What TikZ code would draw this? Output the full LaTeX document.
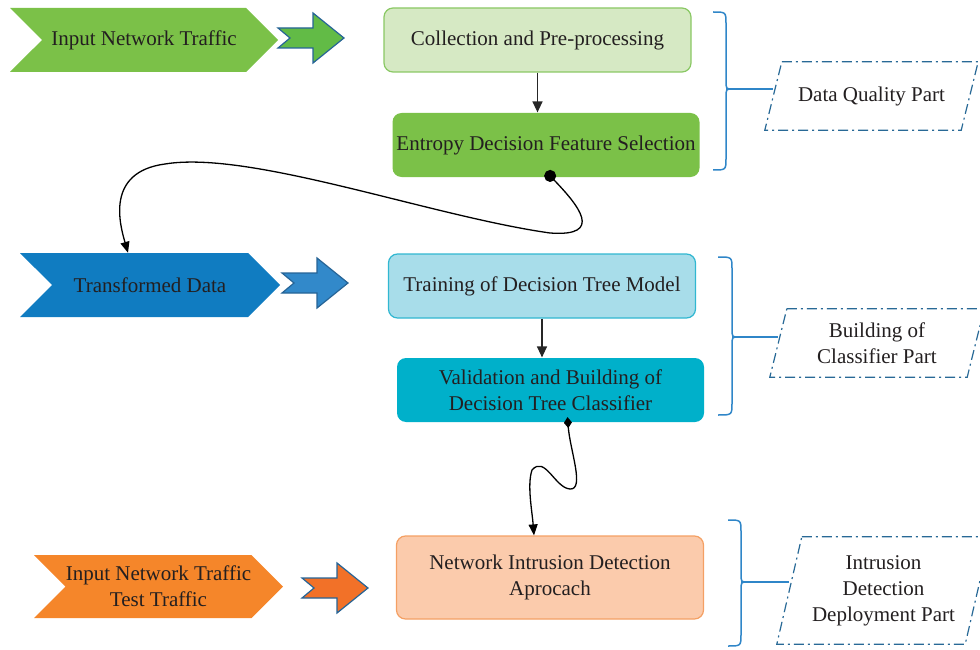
\documentclass[tikz,border=0pt]{standalone}
\usepackage{fontspec}
\setmainfont{Liberation Serif}
\usetikzlibrary{shapes.symbols, arrows.meta}

\definecolor{txt}{RGB}{35,31,32}
\definecolor{grnA}{RGB}{123,193,72}
\definecolor{grnB}{RGB}{98,187,70}
\definecolor{grnPale}{RGB}{214,233,196}
\definecolor{grnEdge}{RGB}{138,200,100}
\definecolor{bluA}{RGB}{16,124,193}
\definecolor{bluB}{RGB}{50,137,202}
\definecolor{cyanPale}{RGB}{168,221,234}
\definecolor{cyanEdge}{RGB}{49,183,209}
\definecolor{cyanA}{RGB}{0,176,202}
\definecolor{orgA}{RGB}{245,134,42}
\definecolor{orgB}{RGB}{242,113,40}
\definecolor{orgPale}{RGB}{251,203,172}
\definecolor{orgEdge}{RGB}{244,160,100}
\definecolor{arrowEdge}{RGB}{38,100,150}
\definecolor{braceCol}{RGB}{47,134,200}
\definecolor{partLine}{RGB}{40,105,150}

\tikzset{fat arrow/.pic={
    \path[pic actions, line width=1.2pt] (0,-10) -- (12,0) -- (0,10) -- (35,10) -- (35,25)
        -- (66,0) -- (35,-25) -- (35,-10) -- cycle;}}

\begin{document}
\begin{tikzpicture}[x=1pt, y=-1pt,
    every node/.style={font=\fontsize{21}{26}\selectfont, text=txt, align=center},
    chevron/.style={signal, signal to=east, signal from=west, signal pointer angle=90,
        minimum height=64pt, inner sep=0pt},
    stage/.style={rounded corners=9pt, minimum width=307pt, minimum height=64pt,
        line width=1.2pt, inner sep=0pt},
    part/.style={minimum height=68pt, inner sep=0pt},
    partedge/.style={draw=partLine, line width=1.2pt, dash pattern=on 10pt off 4pt on 2pt off 4pt},
    flow/.style={-{Triangle[length=11pt,width=10pt]}, line width=1.3pt, draw=black!85},
    link/.style={line width=1.3pt, draw=black},
    bracket/.style={draw=braceCol, line width=1.5pt}]

\useasboundingbox (0,0) rectangle (980,650);

% first row: data quality
\node[chevron, fill=grnA, minimum width=268pt] (inTraffic) at (144,40) {Input Network Traffic};
\pic[fill=grnB, draw=arrowEdge] at (278,38) {fat arrow};
\node[stage, fill=grnPale, draw=grnEdge] (collect) at (537.5,40) {Collection and Pre-processing};
\node[stage, fill=grnA] (entropy) at (546,145) {Entropy Decision Feature Selection};
\draw[flow] (collect.south) -- (collect.south |- entropy.north);

% second row: classifier
\node[chevron, fill=bluA, minimum width=260pt] (transformed) at (150,285) {Transformed Data};
\pic[fill=bluB, draw=arrowEdge] at (282,283) {fat arrow};
\node[stage, fill=cyanPale, draw=cyanEdge] (training) at (542,286) {Training of Decision Tree Model};
\node[stage, fill=cyanA] (validation) at (550.5,390) {Validation and Building of\\Decision Tree Classifier};
\draw[flow] (training.south) -- (training.south |- validation.north);

% third row: deployment
\node[chevron, fill=orgA, minimum width=249pt, minimum height=63pt] (testTraffic) at (158.5,586.5) {Input Network Traffic\\Test Traffic};
\pic[fill=orgB, draw=arrowEdge] at (302,588) {fat arrow};
\node[stage, fill=orgPale, draw=orgEdge, minimum height=83pt] (detect) at (550,577.5) {Network Intrusion Detection\\Aprocach};

% links between the rows
\draw[link, {Circle[length=12pt]}-{Triangle[length=11pt,width=9pt]}] ([yshift=6pt]entropy.south)
    .. controls (578,205) and (605,237) .. (550,233)
    .. controls (430,216) and (250,150) .. (165,164)
    .. controls (105,172) and (120,225) .. ([xshift=-22pt]transformed.north);
\draw[link, {Diamond[length=11pt,width=8pt]}-{Triangle[length=11pt,width=9pt]}] ([xshift=17pt,yshift=5.5pt]validation.south)
    .. controls (570,450) and (585,490) .. (570,489)
    .. controls (555,488) and (545,455) .. (532,470)
    .. controls (527,485) and (532,510) .. ([xshift=-16pt]detect.north);

% parts
\node[part, minimum width=196pt] (quality) at (871.5,96) {Data Quality Part};
\draw[partedge] ([xshift=8.5pt]quality.north west) -- ([xshift=8.5pt]quality.north east)
    -- ([xshift=-8.5pt]quality.south east) -- ([xshift=-8.5pt]quality.south west) -- cycle;
\node[part, minimum width=197pt] (classifier) at (877,343) {Building of\\Classifier Part};
\draw[partedge] ([xshift=8.5pt]classifier.north west) -- ([xshift=8.5pt]classifier.north east)
    -- ([xshift=-8.5pt]classifier.south east) -- ([xshift=-8.5pt]classifier.south west) -- cycle;
\node[part, minimum width=188pt, minimum height=107pt] (deploy) at (883.5,590.5) {Intrusion\\Detection\\Deployment Part};
\draw[partedge] ([xshift=12.5pt]deploy.north west) -- ([xshift=12.5pt]deploy.north east)
    -- ([xshift=-12.5pt]deploy.south east) -- ([xshift=-12.5pt]deploy.south west) -- cycle;

% braces
\draw[bracket] (713,12) .. controls (726,12) .. (726,24) -- (726,80) .. controls (726,89) .. (732,89)
    .. controls (726,89) .. (726,98) -- (726,158) .. controls (726,170) .. (713,170);
\coordinate (qb) at (726,89);
\draw[bracket] (qb) -- (qb -| quality.west);

\draw[bracket] (718,257) .. controls (732,257) .. (732,269) -- (732,328) .. controls (732,337) .. (738,337)
    .. controls (732,337) .. (732,346) -- (732,403) .. controls (732,415) .. (718,415);
\coordinate (cb) at (732,337);
\draw[bracket] (cb) -- (cb -| classifier.west);

\draw[bracket] (728,520) .. controls (741,520) .. (741,532) -- (741,573) .. controls (741,582) .. (747,582)
    .. controls (741,582) .. (741,591) -- (741,634) .. controls (741,646) .. (728,646);
\coordinate (db) at (741,582);
\draw[bracket] (db) -- (db -| deploy.west);
\end{tikzpicture}
\end{document}
